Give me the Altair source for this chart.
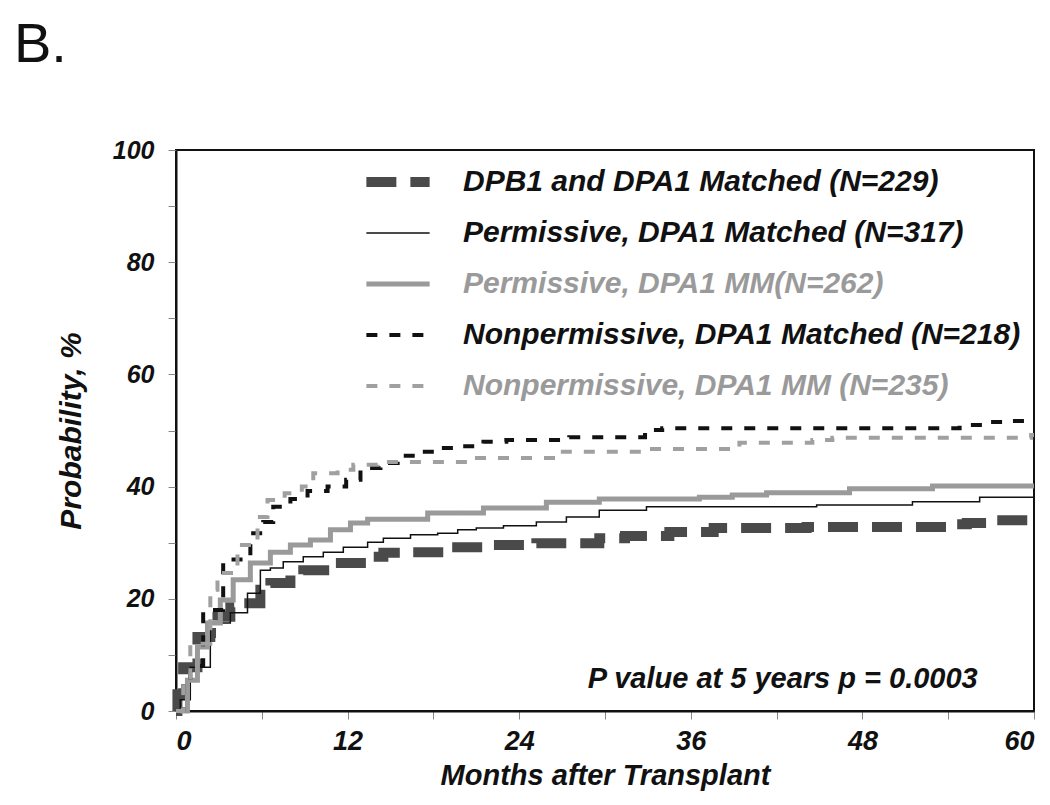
import altair as alt
import pandas as pd

groups = [
    "DPB1 and DPA1 Matched (N=229)",
    "Permissive, DPA1 Matched  (N=317)",
    "Permissive, DPA1 MM(N=262)",
    "Nonpermissive, DPA1 Matched  (N=218)",
    "Nonpermissive, DPA1 MM (N=235)",
]

m1 = [0, 0.1, 0.5, 1.5, 2.4, 2.9, 3.8, 4.5, 5.9, 6.6, 8.0, 8.9, 10.8, 13.6, 14.5, 15.9, 18.7, 22.2, 25.2, 29.6, 31.4, 34.5, 37.6, 44.1, 54.2, 55.3, 56.7, 60]
p1 = [0, 3.0, 7.8, 13.2, 13.9, 16.8, 18.5, 19.2, 21.6, 22.8, 24.2, 25.1, 26.4, 27.5, 28.2, 28.3, 29.2, 29.6, 29.9, 30.8, 31.2, 31.9, 32.6, 32.8, 33.3, 33.5, 34.0, 34.0]

m2 = [0, 0.3, 1.0, 2.4, 3.8, 5.0, 5.9, 6.6, 7.5, 8.9, 10.3, 11.7, 13.4, 14.5, 16.4, 18.3, 19.7, 21.0, 22.9, 25.2, 27.3, 29.6, 32.9, 44.8, 51.5, 56.2, 60]
p2 = [0, 2.0, 7.8, 15.7, 17.5, 21.0, 25.1, 25.5, 26.6, 27.5, 28.3, 29.2, 30.1, 30.8, 31.4, 31.7, 32.3, 32.6, 33.0, 33.7, 34.6, 35.8, 36.4, 36.7, 37.3, 38.1, 38.1]

m3 = [0.3, 0.8, 1.5, 2.2, 3.1, 4.0, 5.2, 6.6, 8.0, 9.4, 10.8, 12.2, 13.4, 17.6, 21.5, 25.9, 29.6, 36.6, 38.9, 41.3, 47.1, 52.9, 60]
p3 = [0, 5.5, 11.4, 15.7, 19.8, 23.4, 26.4, 28.3, 29.6, 30.5, 32.3, 33.5, 34.2, 35.3, 36.2, 37.2, 37.8, 38.1, 38.5, 38.9, 39.6, 40.1, 40.1]

m4 = [0, 0.5, 1.0, 1.9, 3.3, 5.2, 6.1, 6.8, 8.0, 9.2, 10.6, 11.9, 12.9, 14.3, 15.5, 16.9, 18.3, 19.9, 21.5, 23.1, 27.5, 32.8, 34.0, 54.8, 56.5, 57.8, 60]
p4 = [0, 5.0, 8.0, 18.0, 27.0, 31.7, 33.7, 36.4, 37.8, 39.2, 40.0, 41.2, 43.3, 44.2, 45.5, 46.2, 46.9, 47.2, 48.0, 48.3, 48.8, 50.1, 50.4, 51.0, 51.5, 51.7, 51.7]

m5 = [0, 0.5, 1.0, 2.4, 2.9, 4.3, 5.7, 6.4, 7.6, 8.8, 9.6, 11.3, 12.4, 14.1, 20.6, 26.9, 33.1, 39.4, 44.5, 45.9, 59.8, 60]
p5 = [0, 6.0, 12.0, 21.6, 24.6, 29.6, 34.6, 37.6, 38.8, 40.0, 42.4, 43.0, 43.9, 44.4, 45.1, 46.2, 46.7, 47.8, 48.3, 48.7, 49.2, 49.2]

colors = ["#4a4a4a", "#111111", "#9a9a9a", "#111111", "#a0a0a0"]
dashes = [[30, 14], [1, 0], [1, 0], [11, 12], [11, 12]]
widths = [10, 1.5, 5, 4, 4]

annot_text = ["P value at 5 years p = 0.0003"]
annot_x = [28.8]
annot_y = [4.1]
panel_label = ["B."]

rows = []
for g, ms, ps in zip(groups, [m1, m2, m3, m4, m5], [p1, p2, p3, p4, p5]):
    for i, (m, p) in enumerate(zip(ms, ps)):
        rows.append({"group": g, "month": m, "prob": p, "order": i})
df = pd.DataFrame(rows)

FONT = "Liberation Sans"

legend = alt.Legend(
    title=None,
    orient="none",
    legendX=185,
    legendY=7,
    symbolType="stroke",
    symbolSize=4000,
    clipHeight=50,
    labelFont=FONT,
    labelFontSize=30,
    labelFontStyle="italic",
    labelFontWeight="bold",
    labelOffset=28,
    labelLimit=800,
    rowPadding=1,
    labelColor={"expr": "indexof(['Permissive, DPA1 MM(N=262)','Nonpermissive, DPA1 MM (N=235)'], datum.label) >= 0 ? '#9a9a9a' : '#111111'"},
)

lines = alt.Chart(df).mark_line(interpolate="step-after").encode(
    x=alt.X("month:Q", scale=alt.Scale(domain=[0, 60], nice=False),
            axis=alt.Axis(values=list(range(0, 61, 6)),
                          labelExpr="datum.value % 12 == 0 ? datum.label : ''",
                          title="Months after Transplant")),
    y=alt.Y("prob:Q", scale=alt.Scale(domain=[0, 100], nice=False),
            axis=alt.Axis(values=list(range(0, 101, 5)),
                          labelExpr="datum.value % 20 == 0 ? datum.label : ''",
                          title="Probability, %")),
    color=alt.Color("group:N", scale=alt.Scale(domain=groups, range=colors), legend=legend),
    strokeDash=alt.StrokeDash("group:N", scale=alt.Scale(domain=groups, range=dashes), legend=legend),
    strokeWidth=alt.StrokeWidth("group:N", scale=alt.Scale(type="ordinal", domain=groups, range=widths), legend=legend),
    order="order:Q",
)

annot = alt.Chart(pd.DataFrame({"t": annot_text, "x": annot_x, "y": annot_y})).mark_text(
    align="left", baseline="alphabetic", font=FONT, fontSize=29, fontStyle="italic",
    fontWeight="bold", color="#111111"
).encode(x="x:Q", y="y:Q", text="t:N")

label_b = alt.Chart(pd.DataFrame({"t": panel_label})).mark_text(
    align="left", baseline="alphabetic", font=FONT, fontSize=56, color="#111111"
).encode(x=alt.value(-162), y=alt.value(-88), text="t:N")

chart = alt.layer(lines, annot, label_b).properties(
    width=858, height=561,
    autosize=alt.AutoSizeParams(type="none"),
    padding={"left": 168, "top": 142, "right": 8, "bottom": 80},
).configure_view(stroke="#111111", strokeWidth=2).configure_axis(
    grid=False,
    domainColor="#111111", domainWidth=2,
    tickColor="#888888", tickSize=8, tickWidth=1,
    labelFont=FONT, labelFontStyle="italic", labelFontWeight="bold",
    labelColor="#111111",
    titleFont=FONT, titleFontStyle="italic", titleFontWeight="bold",
    titleColor="#111111",
).configure_axisX(labelPadding=9, titlePadding=7, labelFontSize=27, titleFontSize=29
).configure_axisY(labelPadding=14, titlePadding=26, labelFontSize=25, titleFontSize=30)

chart.save("out.html", embed_options={"renderer": "svg", "actions": False})
